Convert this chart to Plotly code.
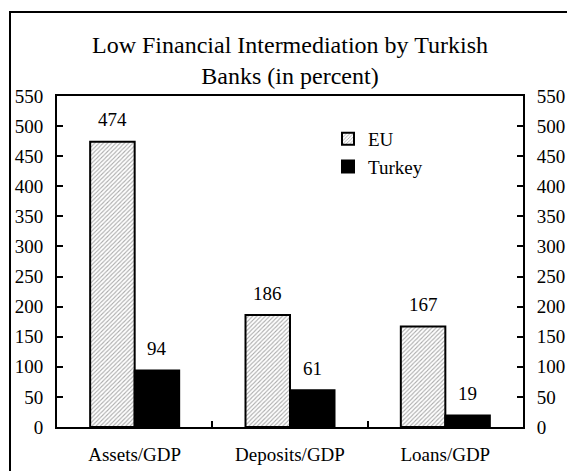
import plotly.graph_objects as go

categories = ["Assets/GDP", "Deposits/GDP", "Loans/GDP"]
eu_values = [474, 186, 167]
turkey_values = [94, 61, 19]
y_ticks = list(range(0, 551, 50))

FONT = '"Liberation Serif", "Times New Roman", Times, serif'
BAR_GAP = 0.427
half_bar = (1 - BAR_GAP) / 4  # offset of each bar centre from the category centre

fig = go.Figure()
fig.add_trace(go.Bar(
    name="EU", x=categories, y=eu_values,
    marker=dict(color="white",
                line=dict(color="black", width=2),
                pattern=dict(shape="/", size=3, solidity=0.35,
                             fgcolor="#555555", bgcolor="white")),
))
fig.add_trace(go.Bar(
    name="Turkey", x=categories, y=turkey_values,
    marker=dict(color="black", line=dict(color="black", width=2)),
))
# invisible helper so the right-hand value axis is drawn
fig.add_trace(go.Scatter(
    x=[categories[0]], y=[0], yaxis="y2", mode="markers",
    marker=dict(opacity=0), showlegend=False, hoverinfo="skip",
))

# value labels above each bar
annotations = []
for i, (e, t) in enumerate(zip(eu_values, turkey_values)):
    for val, dx in ((e, -half_bar), (t, half_bar)):
        annotations.append(dict(
            x=i + dx, y=val, xref="x", yref="y", text=str(val),
            showarrow=False, yanchor="middle", yshift=22,
            font=dict(family=FONT, size=19, color="black"),
        ))

# outer frame around the whole figure
PL, PR, PT, PB = 57, 523, 96, 427
pw, ph = PR - PL, PB - PT
def px_x(v):
    return (v - PL) / pw
def px_y(v):
    return (PB - v) / ph

axis_common = dict(showline=True, linecolor="black", linewidth=2,
                   ticks="inside", ticklen=6, tickwidth=2, tickcolor="black",
                   showgrid=False, zeroline=False, automargin=False,
                   tickfont=dict(family=FONT, size=19, color="black"))

fig.update_layout(
    width=567, height=471,
    margin=dict(l=PL, r=567 - PR, t=PT, b=471 - PB, autoexpand=False),
    paper_bgcolor="white", plot_bgcolor="white",
    barmode="group", bargap=BAR_GAP, bargroupgap=0,
    font=dict(family=FONT, size=19, color="black"),
    title=dict(text="Low Financial Intermediation by Turkish<br>Banks (in percent)",
               x=0.5, xref="paper", xanchor="center",
               y=1 - 53 / 471, yref="container", yanchor="middle",
               automargin=False,
               font=dict(family=FONT, size=24, color="black")),
    showlegend=True,
    legend=dict(x=px_x(328), y=px_y(120), xanchor="left", yanchor="top",
                bgcolor="rgba(0,0,0,0)", borderwidth=0,
                font=dict(family=FONT, size=19, color="black"),
                tracegroupgap=0),
    xaxis=dict(**axis_common, mirror=True, tickson="boundaries",
               ticklabelstandoff=9),
    yaxis=dict(**axis_common, range=[0, 550], tickvals=y_ticks,
               ticklabelstandoff=8),
    yaxis2=dict(**axis_common, range=[0, 550], tickvals=y_ticks,
                overlaying="y", side="right", ticklabelstandoff=8),
    annotations=annotations,
    shapes=[dict(type="rect", xref="paper", yref="paper",
                 x0=px_x(10), x1=px_x(620), y0=px_y(520), y1=px_y(12),
                 line=dict(color="black", width=2), layer="below")],
)

fig.write_html("out.html")
